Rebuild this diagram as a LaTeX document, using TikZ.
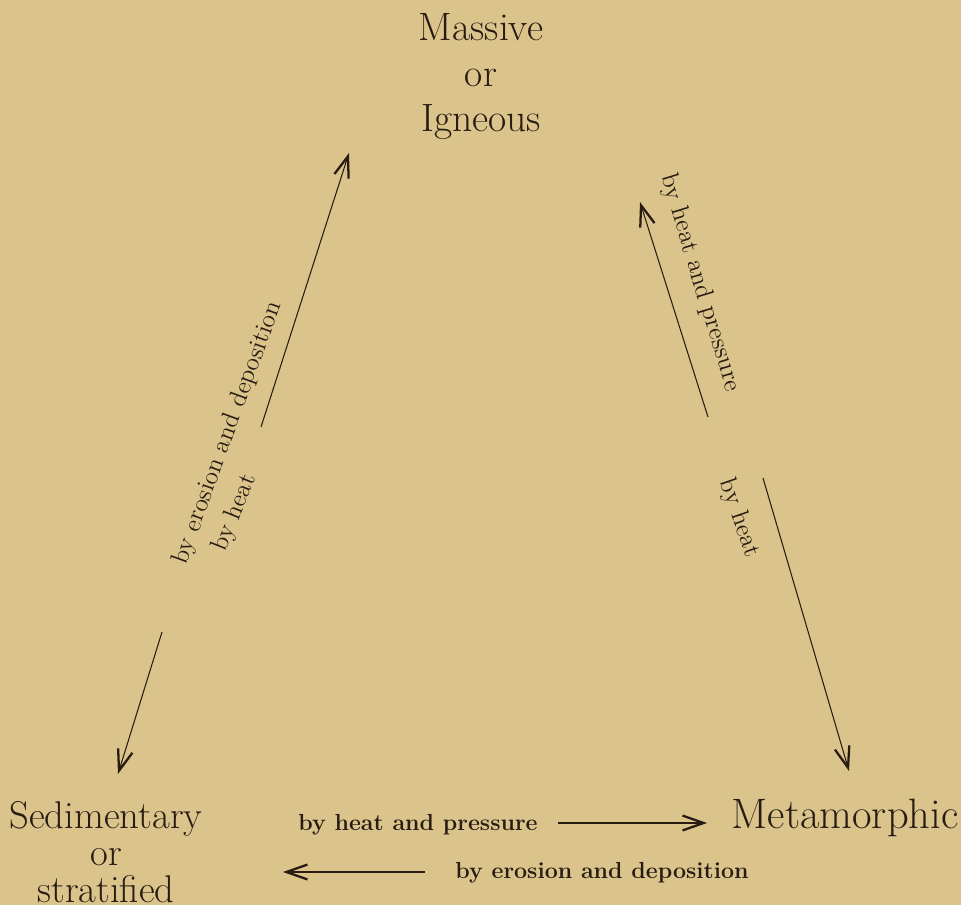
\documentclass[tikz,border=0pt]{standalone}
\usepackage{fontspec}
\usetikzlibrary{arrows.meta}
\definecolor{paper}{RGB}{218,196,140}
\definecolor{ink}{RGB}{40,28,18}
\begin{document}
\begin{tikzpicture}[
			x=0.02cm, y=-0.02cm,
			>={Straight Barb[length=12pt, width=8.5pt, line width=1.3pt]},
			flow line/.style={->, draw=ink, line width=0.6pt},
			rock node/.style={text=ink, inner sep=0pt, align=center},
			side label/.style={text=ink, inner sep=0pt, font=\fontsize{14.4}{17}\selectfont},
			base label/.style={text=ink, inner sep=0pt, anchor=base west, font=\fontsize{13.2}{16}\selectfont\bfseries}
			]
			\fill[paper] (0,0) rectangle (961,905);
			\useasboundingbox (0,0) rectangle (961,905);
			
			\node[rock node, anchor=north, font=\fontsize{22.5}{26}\selectfont] (igneous) at (481,13) {Massive\\or\\Igneous};
			\node[rock node, anchor=north, font=\fontsize{22}{21}\selectfont] (sedim) at (106,801) {Sedimentary\\or\\stratified};
			\node[rock node, anchor=base, font=\fontsize{24.2}{28}\selectfont] (metam) at (845,828) {Metamorphic};
			
			% left side
			\coordinate (LeftUpA) at (261,427);
			\coordinate (LeftUpB) at (349,153);
			\coordinate (LeftDnA) at (162,632);
			\coordinate (LeftDnB) at (118,774);
			\draw[flow line] (LeftUpA) -- (LeftUpB);
			\draw[flow line] (LeftDnA) -- (LeftDnB);
			\node[side label, rotate=70] (erosionL) at (228,433) {by erosion and deposition};
			\node[side label, rotate=68] (heatL) at (235,513) {by heat};
			
			% right side
			\coordinate (RightUpA) at (708,417);
			\coordinate (RightUpB) at (640,202);
			\coordinate (RightDnA) at (763,478);
			\coordinate (RightDnB) at (849,771);
			\draw[flow line] (RightUpA) -- (RightUpB);
			\draw[flow line] (RightDnA) -- (RightDnB);
			\node[side label, rotate=-73] (pressureR) at (700,283) {by heat and pressure};
			\node[side label, rotate=-71] (heatR) at (739,518) {by heat};
			
			% bottom
			\node[base label] (pressureB) at (298,830) {by heat and pressure};
			\node[base label] (erosionB) at (455,878) {by erosion and deposition};
			\coordinate (BotRA) at (558,823);
			\coordinate (BotRB) at (707,823);
			\coordinate (BotLA) at (425,872);
			\coordinate (BotLB) at (283,872);
			\draw[flow line] (BotRA) -- (BotRB);
			\draw[flow line] (BotLA) -- (BotLB);
		\end{tikzpicture}
\end{document}
